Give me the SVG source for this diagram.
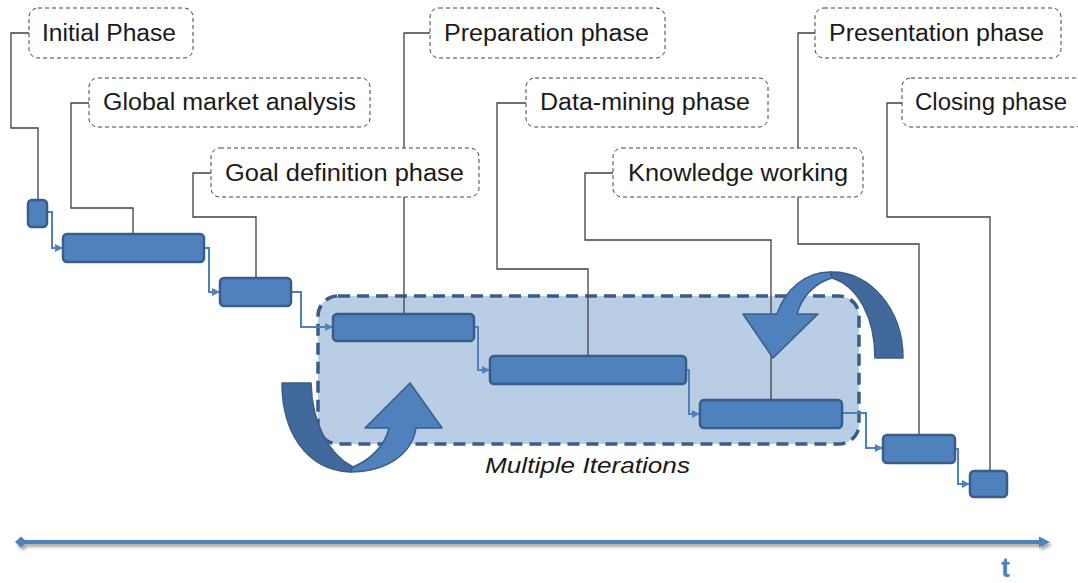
<svg xmlns="http://www.w3.org/2000/svg" width="1078" height="583" viewBox="0 0 1078 583">
  <style>
    .label rect { fill: #ffffff; stroke: #404040; stroke-width: 1; stroke-dasharray: 4 3; }
    .label text { font-family: "Liberation Sans", Arial, sans-serif; font-size: 23px; fill: #1a1a1a; }
    .bar rect { fill: #4F81BD; stroke: #385D8A; stroke-width: 2.5; }
    .leader { fill: none; stroke: #404040; stroke-width: 1.3; }
    .flow { fill: none; stroke: #4F81BD; stroke-width: 2; marker-end: url(#flowHead); }
    .turn-back { fill: #41699C; stroke: #385D8A; stroke-width: 1.5; stroke-linejoin: round; }
    .turn-front { fill: #4F81BD; stroke: #385D8A; stroke-width: 1.5; stroke-linejoin: round; }
  </style>
  <defs>
    <marker id="flowHead" markerUnits="userSpaceOnUse" markerWidth="9" markerHeight="9" refX="8" refY="4.5" orient="auto">
      <path d="M0,0.5 L8,4.5 L0,8.5 z" fill="#4F81BD"/>
    </marker>
    <filter id="shadow" filterUnits="userSpaceOnUse" x="0" y="520" width="1078" height="50">
      <feGaussianBlur in="SourceAlpha" stdDeviation="1.5"/>
      <feOffset dx="2" dy="3" result="off"/>
      <feComponentTransfer><feFuncA type="linear" slope="0.35"/></feComponentTransfer>
      <feMerge><feMergeNode/><feMergeNode in="SourceGraphic"/></feMerge>
    </filter>
  </defs>

  <!-- iteration region -->
  <g id="iterations">
    <rect x="318" y="296" width="541" height="148" rx="20" fill="#B9CDE5" stroke="#385D8A" stroke-width="3.5" stroke-dasharray="12 7"/>
    <text x="485" y="473" font-family="'Liberation Sans', Arial, sans-serif" font-size="22" font-style="italic" fill="#1a1a1a" textLength="205" lengthAdjust="spacingAndGlyphs">Multiple Iterations</text>
  </g>

  <!-- leader lines from labels to phase bars -->
  <g id="connectors">
    <polyline class="leader" points="29,33 11,33 11,128 38,128 38,200"/>
    <polyline class="leader" points="89,103 71,103 71,208 133,208 133,234"/>
    <polyline class="leader" points="211,173 193,173 193,217 256,217 256,278"/>
    <polyline class="leader" points="430,33 404,33 404,314"/>
    <polyline class="leader" points="526,103 497,103 497,269 588,269 588,356"/>
    <polyline class="leader" points="613,173 585,173 585,240 771,240 771,400"/>
    <polyline class="leader" points="815,33 798,33 798,244 919,244 919,435"/>
    <polyline class="leader" points="902,103 887,103 887,217 990,217 990,471"/>

    <!-- sequence arrows between bars -->
    <polyline class="flow" points="47,212 52,212 52,248 63,248"/>
    <polyline class="flow" points="204,248 209,248 209,292 220,292"/>
    <polyline class="flow" points="291,292 301,292 301,327 333,327"/>
    <polyline class="flow" points="474,327 478,327 478,370 490,370"/>
    <polyline class="flow" points="686,370 689,370 689,414 700,414"/>
    <polyline class="flow" points="842,413 866,413 866,448 883,448"/>
    <polyline class="flow" points="955,449 958,449 958,484 970,484"/>
  </g>

  <!-- phase bars -->
  <g id="bar-initial" class="bar"><rect x="28" y="200" width="19" height="27" rx="4"/></g>
  <g id="bar-global" class="bar"><rect x="63" y="234" width="141" height="28" rx="4"/></g>
  <g id="bar-goal" class="bar"><rect x="220" y="278" width="71" height="28" rx="4"/></g>
  <g id="bar-preparation" class="bar"><rect x="333" y="314" width="141" height="27" rx="4"/></g>
  <g id="bar-datamining" class="bar"><rect x="490" y="356" width="196" height="28" rx="4"/></g>
  <g id="bar-knowledge" class="bar"><rect x="700" y="400" width="142" height="28" rx="4"/></g>
  <g id="bar-presentation" class="bar"><rect x="883" y="435" width="72" height="28" rx="4"/></g>
  <g id="bar-closing" class="bar"><rect x="970" y="471" width="37" height="26" rx="4"/></g>

  <!-- iteration loop arrows -->
  <g id="loop-up">
    <path class="turn-back" d="M282,383 L311,383 C312,425 330,455 353,467 L350,472 C305,470 282,430 282,383 Z"/>
    <path class="turn-front" d="M353,467 C370,460 385,446 389,428 L365,428 L410,383 L442,428 L416,428 C412,455 385,472 350,472 Z"/>
  </g>
  <g id="loop-down">
    <path class="turn-back" d="M830,272 C870,270 903,310 903,358 L875,358 C875,318 858,286 832,278 Z"/>
    <path class="turn-front" d="M830,272 C805,272 785,290 777,314 L743,314 L773,358 L818,314 L797,314 C802,296 815,283 832,278 Z"/>
  </g>

  <!-- phase labels -->
  <g id="label-initial" class="label">
    <rect x="29" y="8" width="164" height="50" rx="9"/>
    <text x="42" y="41" textLength="134" lengthAdjust="spacingAndGlyphs">Initial Phase</text>
  </g>
  <g id="label-global" class="label">
    <rect x="89" y="78" width="281" height="49" rx="9"/>
    <text x="103" y="110" textLength="253" lengthAdjust="spacingAndGlyphs">Global market analysis</text>
  </g>
  <g id="label-goal" class="label">
    <rect x="211" y="148" width="268" height="49" rx="9"/>
    <text x="225" y="181" textLength="239" lengthAdjust="spacingAndGlyphs">Goal definition phase</text>
  </g>
  <g id="label-preparation" class="label">
    <rect x="430" y="8" width="235" height="50" rx="9"/>
    <text x="444" y="41" textLength="205" lengthAdjust="spacingAndGlyphs">Preparation phase</text>
  </g>
  <g id="label-datamining" class="label">
    <rect x="526" y="78" width="242" height="49" rx="9"/>
    <text x="540" y="110" textLength="210" lengthAdjust="spacingAndGlyphs">Data-mining phase</text>
  </g>
  <g id="label-knowledge" class="label">
    <rect x="613" y="148" width="250" height="49" rx="9"/>
    <text x="628" y="181" textLength="220" lengthAdjust="spacingAndGlyphs">Knowledge working</text>
  </g>
  <g id="label-presentation" class="label">
    <rect x="815" y="8" width="246" height="50" rx="9"/>
    <text x="829" y="41" textLength="215" lengthAdjust="spacingAndGlyphs">Presentation phase</text>
  </g>
  <g id="label-closing" class="label">
    <rect x="902" y="78" width="182" height="49" rx="9"/>
    <text x="915" y="110" textLength="152" lengthAdjust="spacingAndGlyphs">Closing phase</text>
  </g>

  <!-- time axis -->
  <g id="time-axis">
    <g filter="url(#shadow)" fill="#4F81BD">
      <rect x="20" y="540" width="1022" height="4"/>
      <path d="M15,542 L21,536.5 L27,542 L21,547.5 Z"/>
      <path d="M1050,542 L1039,536.5 L1039,547.5 Z"/>
    </g>
    <text x="1001" y="577" font-family="'Liberation Sans', Arial, sans-serif" font-size="27" font-weight="bold" fill="#4F81BD">t</text>
  </g>
</svg>
